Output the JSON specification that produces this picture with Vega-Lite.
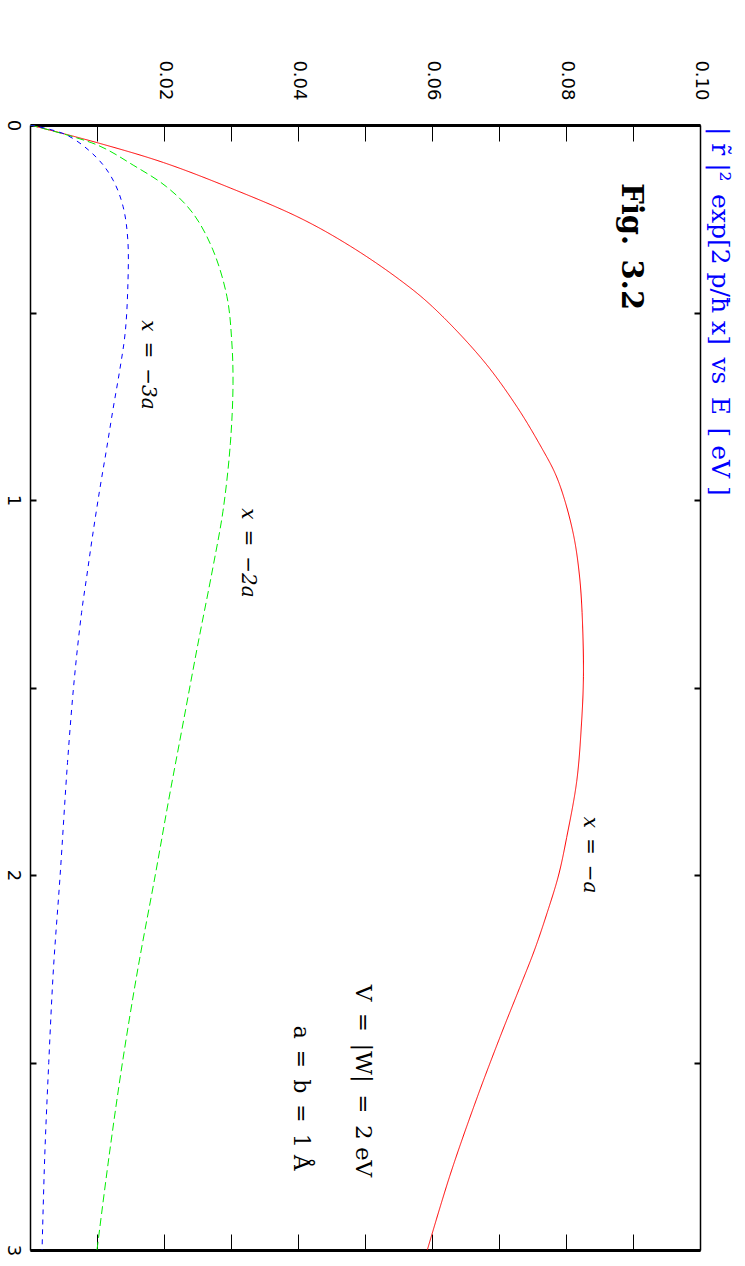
{
  "$schema": "https://vega.github.io/schema/vega-lite/v6.json",
  "width": 670,
  "height": 1125,
  "autosize": {"type": "none"},
  "padding": {"left": 30, "top": 125, "right": 45, "bottom": 16},
  "background": "white",
  "config": {"view": {"stroke": null}, "axis": {"grid": false}},
  "datasets": {
    "curves": [
      {"curve": "x=-a", "E": 0, "v": 0},
      {"curve": "x=-a", "E": 0.047, "v": 0.0100},
      {"curve": "x=-a", "E": 0.1, "v": 0.0199},
      {"curve": "x=-a", "E": 0.168, "v": 0.0299},
      {"curve": "x=-a", "E": 0.248, "v": 0.0403},
      {"curve": "x=-a", "E": 0.323, "v": 0.0478},
      {"curve": "x=-a", "E": 0.413, "v": 0.0552},
      {"curve": "x=-a", "E": 0.485, "v": 0.0601},
      {"curve": "x=-a", "E": 0.627, "v": 0.0676},
      {"curve": "x=-a", "E": 0.752, "v": 0.0727},
      {"curve": "x=-a", "E": 0.862, "v": 0.0764},
      {"curve": "x=-a", "E": 0.93, "v": 0.0784},
      {"curve": "x=-a", "E": 1.0, "v": 0.0798},
      {"curve": "x=-a", "E": 1.1, "v": 0.0812},
      {"curve": "x=-a", "E": 1.2, "v": 0.0820},
      {"curve": "x=-a", "E": 1.3, "v": 0.0824},
      {"curve": "x=-a", "E": 1.47, "v": 0.0826},
      {"curve": "x=-a", "E": 1.6, "v": 0.0823},
      {"curve": "x=-a", "E": 1.75, "v": 0.0816},
      {"curve": "x=-a", "E": 1.9, "v": 0.0801},
      {"curve": "x=-a", "E": 2.0, "v": 0.0789},
      {"curve": "x=-a", "E": 2.1, "v": 0.0772},
      {"curve": "x=-a", "E": 2.2, "v": 0.0753},
      {"curve": "x=-a", "E": 2.3, "v": 0.0731},
      {"curve": "x=-a", "E": 2.43, "v": 0.0702},
      {"curve": "x=-a", "E": 2.6, "v": 0.0666},
      {"curve": "x=-a", "E": 2.8, "v": 0.0627},
      {"curve": "x=-a", "E": 3.0, "v": 0.0593},
      {"curve": "x=-2a", "E": 0, "v": 0},
      {"curve": "x=-2a", "E": 0.053, "v": 0.0100},
      {"curve": "x=-2a", "E": 0.107, "v": 0.0154},
      {"curve": "x=-2a", "E": 0.165, "v": 0.0204},
      {"curve": "x=-2a", "E": 0.235, "v": 0.0243},
      {"curve": "x=-2a", "E": 0.333, "v": 0.0273},
      {"curve": "x=-2a", "E": 0.458, "v": 0.0294},
      {"curve": "x=-2a", "E": 0.573, "v": 0.0301},
      {"curve": "x=-2a", "E": 0.69, "v": 0.0303},
      {"curve": "x=-2a", "E": 0.85, "v": 0.0299},
      {"curve": "x=-2a", "E": 1.03, "v": 0.0288},
      {"curve": "x=-2a", "E": 1.18, "v": 0.0273},
      {"curve": "x=-2a", "E": 1.39, "v": 0.0250},
      {"curve": "x=-2a", "E": 1.6, "v": 0.0228},
      {"curve": "x=-2a", "E": 1.8, "v": 0.0207},
      {"curve": "x=-2a", "E": 2.0, "v": 0.0187},
      {"curve": "x=-2a", "E": 2.25, "v": 0.0161},
      {"curve": "x=-2a", "E": 2.5, "v": 0.0138},
      {"curve": "x=-2a", "E": 2.75, "v": 0.0118},
      {"curve": "x=-2a", "E": 3.0, "v": 0.0100},
      {"curve": "x=-3a", "E": 0, "v": 0},
      {"curve": "x=-3a", "E": 0.027, "v": 0.0055},
      {"curve": "x=-3a", "E": 0.088, "v": 0.0100},
      {"curve": "x=-3a", "E": 0.147, "v": 0.0124},
      {"curve": "x=-3a", "E": 0.218, "v": 0.0139},
      {"curve": "x=-3a", "E": 0.307, "v": 0.0146},
      {"curve": "x=-3a", "E": 0.432, "v": 0.0146},
      {"curve": "x=-3a", "E": 0.555, "v": 0.0142},
      {"curve": "x=-3a", "E": 0.653, "v": 0.0134},
      {"curve": "x=-3a", "E": 0.757, "v": 0.0124},
      {"curve": "x=-3a", "E": 0.867, "v": 0.0114},
      {"curve": "x=-3a", "E": 0.973, "v": 0.0104},
      {"curve": "x=-3a", "E": 1.1, "v": 0.0093},
      {"curve": "x=-3a", "E": 1.2, "v": 0.0085},
      {"curve": "x=-3a", "E": 1.3, "v": 0.0077},
      {"curve": "x=-3a", "E": 1.48, "v": 0.0066},
      {"curve": "x=-3a", "E": 1.7, "v": 0.0056},
      {"curve": "x=-3a", "E": 2.0, "v": 0.0045},
      {"curve": "x=-3a", "E": 2.25, "v": 0.0035},
      {"curve": "x=-3a", "E": 2.5, "v": 0.0028},
      {"curve": "x=-3a", "E": 2.75, "v": 0.0022},
      {"curve": "x=-3a", "E": 3.0, "v": 0.0018}
    ]
  },
  "layer": [
    {
      "data": {"name": "curves"},
      "mark": {"type": "line", "strokeWidth": 1, "clip": true, "interpolate": "catmull-rom"},
      "encoding": {
        "x": {
          "field": "v", "type": "quantitative",
          "scale": {"domain": [0, 0.1], "nice": false, "zero": false},
          "axis": {
            "orient": "bottom", "title": null, "labels": false,
            "values": [0.01, 0.02, 0.03, 0.04, 0.05, 0.06, 0.07, 0.08, 0.09, 0.1],
            "tickSize": -16, "tickColor": "black", "tickWidth": 1,
            "domainColor": "black", "domainWidth": 3
          }
        },
        "y": {
          "field": "E", "type": "quantitative",
          "scale": {"domain": [0, 3], "reverse": true, "nice": false, "zero": false},
          "axis": {
            "orient": "left", "title": null,
            "values": [0, 0.5, 1, 1.5, 2, 2.5, 3],
            "labelExpr": "datum.value % 1 == 0 ? format(datum.value, 'd') : ''",
            "labelAngle": 90, "labelAlign": "center", "labelBaseline": "top",
            "labelFont": "DejaVu Sans", "labelFontSize": 18, "labelColor": "black",
            "labelPadding": 15, "labelOverlap": false, "labelFlush": false, "labelBound": false,
            "tickSize": -6, "tickColor": "black", "tickWidth": 2,
            "domainColor": "black", "domainWidth": 1.5
          }
        },
        "order": {"field": "E", "type": "quantitative"},
        "color": {
          "field": "curve", "type": "nominal",
          "scale": {"domain": ["x=-a", "x=-2a", "x=-3a"], "range": ["#ff0000", "#00ee00", "#0000ff"]},
          "legend": null
        },
        "strokeDash": {
          "field": "curve", "type": "nominal",
          "scale": {"domain": ["x=-a", "x=-2a", "x=-3a"], "range": [[1, 0], [8, 4], [5, 5]]},
          "legend": null
        }
      }
    },
    {
      "data": {"values": [{"text": "Fig.\u20023.2", "E": 0.155, "v": 0.0897}]},
      "mark": {"type": "text", "angle": 90, "align": "left", "baseline": "middle", "font": "DejaVu Serif", "fontSize": 29, "fontWeight": "bold", "color": "black"},
      "encoding": {
        "text": {"field": "text"},
        "x": {
          "field": "v", "type": "quantitative",
          "scale": {"domain": [0, 0.1], "nice": false, "zero": false},
          "axis": {
            "orient": "top", "title": null,
            "values": [0.01, 0.02, 0.03, 0.04, 0.05, 0.06, 0.07, 0.08, 0.09, 0.1],
            "labelExpr": "round(datum.value * 100) % 2 == 0 ? format(datum.value, '.2f') : ''",
            "labelAngle": 90, "labelAlign": "right", "labelBaseline": "middle",
            "labelFont": "DejaVu Sans", "labelFontSize": 18, "labelColor": "black",
            "labelPadding": 41, "labelOverlap": false, "labelFlush": false, "labelBound": false,
            "tickSize": -16, "tickColor": "black", "tickWidth": 1,
            "domainColor": "black", "domainWidth": 3
          }
        },
        "y": {
          "field": "E", "type": "quantitative",
          "scale": {"domain": [0, 3], "reverse": true, "nice": false, "zero": false},
          "axis": {
            "orient": "right", "title": null, "labels": false,
            "values": [0, 0.5, 1, 1.5, 2, 2.5, 3],
            "tickSize": -6, "tickColor": "black", "tickWidth": 2,
            "domainColor": "black", "domainWidth": 1.5
          }
        }
      }
    },
    {
      "data": {"values": [
        {"text": "x\u2002=\u2002−a", "E": 1.947, "v": 0.0836},
        {"text": "x\u2002=\u2002−2a", "E": 1.141, "v": 0.0325},
        {"text": "x\u2002=\u2002−3a", "E": 0.64, "v": 0.0176}
      ]},
      "mark": {"type": "text", "angle": 90, "align": "center", "baseline": "middle", "font": "DejaVu Serif", "fontSize": 20, "fontStyle": "italic", "color": "black"},
      "encoding": {
        "text": {"field": "text"},
        "x": {"field": "v", "type": "quantitative", "axis": null},
        "y": {"field": "E", "type": "quantitative", "axis": null}
      }
    },
    {
      "data": {"values": [
        {"text": "V\u2002=\u2002|W|\u2002=\u20022 eV", "E": 2.549, "v": 0.0497}
      ]},
      "mark": {"type": "text", "angle": 90, "align": "center", "baseline": "middle", "font": "DejaVu Serif", "fontSize": 23, "color": "black"},
      "encoding": {
        "text": {"field": "text"},
        "x": {"field": "v", "type": "quantitative", "axis": null},
        "y": {"field": "E", "type": "quantitative", "axis": null}
      }
    },
    {
      "data": {"values": [
        {"text": "a\u2002=\u2002b\u2002=\u20021 Å", "E": 2.595, "v": 0.0405}
      ]},
      "mark": {"type": "text", "angle": 90, "align": "center", "baseline": "middle", "font": "DejaVu Serif", "fontSize": 22, "color": "black"},
      "encoding": {
        "text": {"field": "text"},
        "x": {"field": "v", "type": "quantitative", "axis": null},
        "y": {"field": "E", "type": "quantitative", "axis": null}
      }
    },
    {
      "data": {"values": [
        {"text": "| r̃ |²\u2002exp[2 p/ħ x]\u2002vs\u2002E\u2002[ eV ]", "E": 0.005, "v": 0.103}
      ]},
      "mark": {"type": "text", "angle": 90, "align": "left", "baseline": "middle", "font": "DejaVu Serif", "fontSize": 25, "color": "#0000ff"},
      "encoding": {
        "text": {"field": "text"},
        "x": {"field": "v", "type": "quantitative", "axis": null},
        "y": {"field": "E", "type": "quantitative", "axis": null}
      }
    }
  ],
  "resolve": {"axis": {"x": "independent", "y": "independent"}}
}
